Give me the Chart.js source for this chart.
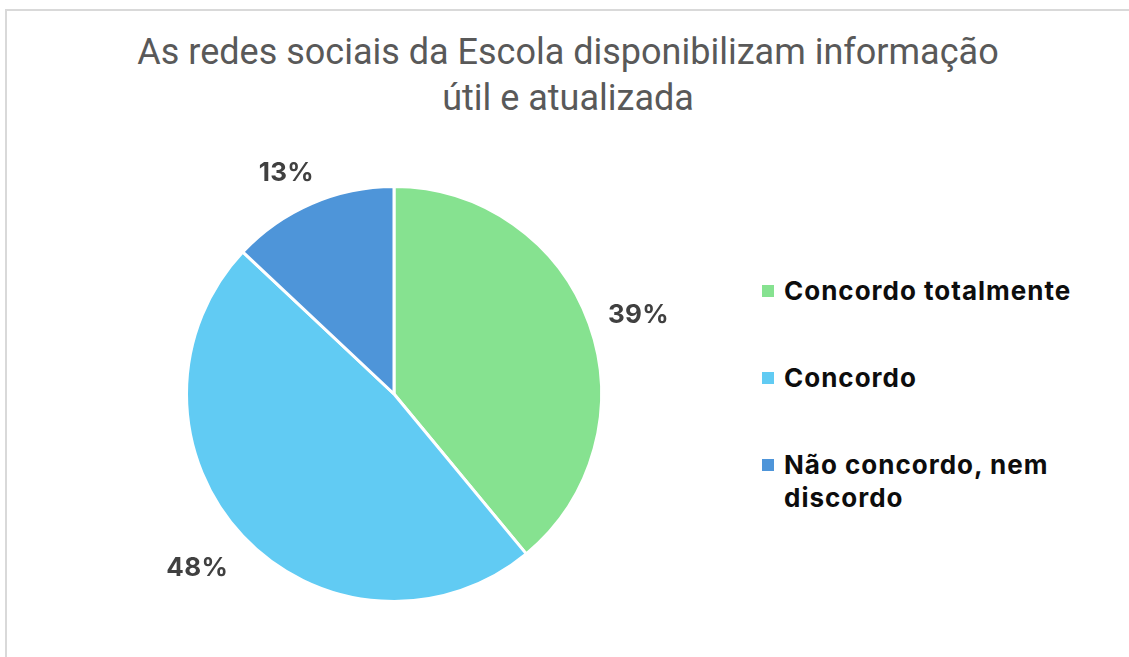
<!DOCTYPE html>
<html>
<head>
<meta charset="utf-8">
<script src="https://cdn.jsdelivr.net/npm/chart.js@4"></script>
<style>
  html, body { margin: 0; padding: 0; background: #fff; }
  body { width: 1129px; height: 657px; position: relative; overflow: hidden; }
  #frame { position: absolute; left: 5px; top: 9px; width: 1140px; height: 700px;
           border-left: 2px solid #d9d9d9; border-top: 2px solid #d9d9d9; }
  #title { position: absolute; left: 8px; width: 1120px; top: 29px; text-align: center;
           font-family: Roboto, "Liberation Sans", sans-serif; font-size: 36px; line-height: 46px;
           color: #595959; }
  #legend { position: absolute; left: 762px; top: 274px; width: 360px;
            font-family: Inter, "Noto Sans", sans-serif; font-weight: 700; font-size: 26px;
            letter-spacing: 1px; line-height: 33px; color: #0d0d0d; }
  .item { position: relative; padding-left: 22px; margin-bottom: 54px; }
  .sw { position: absolute; left: 0; top: 11px; width: 12px; height: 12px; }
  canvas { position: absolute; left: 0; top: 0; }
</style>
</head>
<body>
<div id="frame"></div>
<div id="title">As redes sociais da Escola disponibilizam informação<br>útil e atualizada</div>
<div id="legend"></div>
<canvas id="c" width="1129" height="657"></canvas>
<script>
var labels = ["Concordo totalmente", "Concordo", "Não concordo, nem discordo"];
var legendLines = [["Concordo totalmente"], ["Concordo"], ["Não concordo, nem", "discordo"]];
var values = [39, 48, 13];
var colors = ["#86E290", "#61CBF3", "#4E95D9"];

// legend
var lg = document.getElementById('legend');
for (var i = 0; i < labels.length; i++) {
    var d = document.createElement('div');
    d.className = 'item';
    d.innerHTML = '<span class="sw" style="background:' + colors[i] + '"></span>' + legendLines[i].join('<br>');
    lg.appendChild(d);
}

// percentage labels outside the slices
var outLabels = {
    id: 'outLabels',
    afterDatasetsDraw: function (chart) {
        var ctx = chart.ctx;
        var meta = chart.getDatasetMeta(0);
        var total = values.reduce(function (a, b) { return a + b; }, 0);
        ctx.save();
        ctx.font = 'bold 26px Inter, "Noto Sans", sans-serif';
        ctx.letterSpacing = '0.3px';
        ctx.fillStyle = '#404040';
        ctx.textAlign = 'center';
        ctx.textBaseline = 'middle';
        meta.data.forEach(function (arc, i) {
            var p = arc.getProps(['x', 'y', 'startAngle', 'endAngle', 'outerRadius'], true);
            var a = (p.startAngle + p.endAngle) / 2;
            var pct = Math.round(values[i] / total * 100) + '%';
            var w = ctx.measureText(pct).width, h = 26;
            var r = p.outerRadius + 26;
            var dx = Math.cos(a), dy = Math.sin(a);
            ctx.fillText(pct, p.x + dx * r + dx * w / 2 - 4, p.y + dy * r + dy * h / 2 + 5);
        });
        ctx.restore();
    }
};

new Chart(document.getElementById('c'), {
    type: 'pie',
    data: {
        labels: labels,
        datasets: [{
            data: values,
            backgroundColor: colors,
            borderColor: '#ffffff',
            borderWidth: 3
        }]
    },
    options: {
        responsive: false,
        animation: false,
        layout: { padding: { left: 185, top: 185, right: 526, bottom: 54 } },
        plugins: {
            legend: { display: false },
            title: { display: false },
            tooltip: { enabled: false }
        }
    },
    plugins: [outLabels]
});
</script>
</body>
</html>
